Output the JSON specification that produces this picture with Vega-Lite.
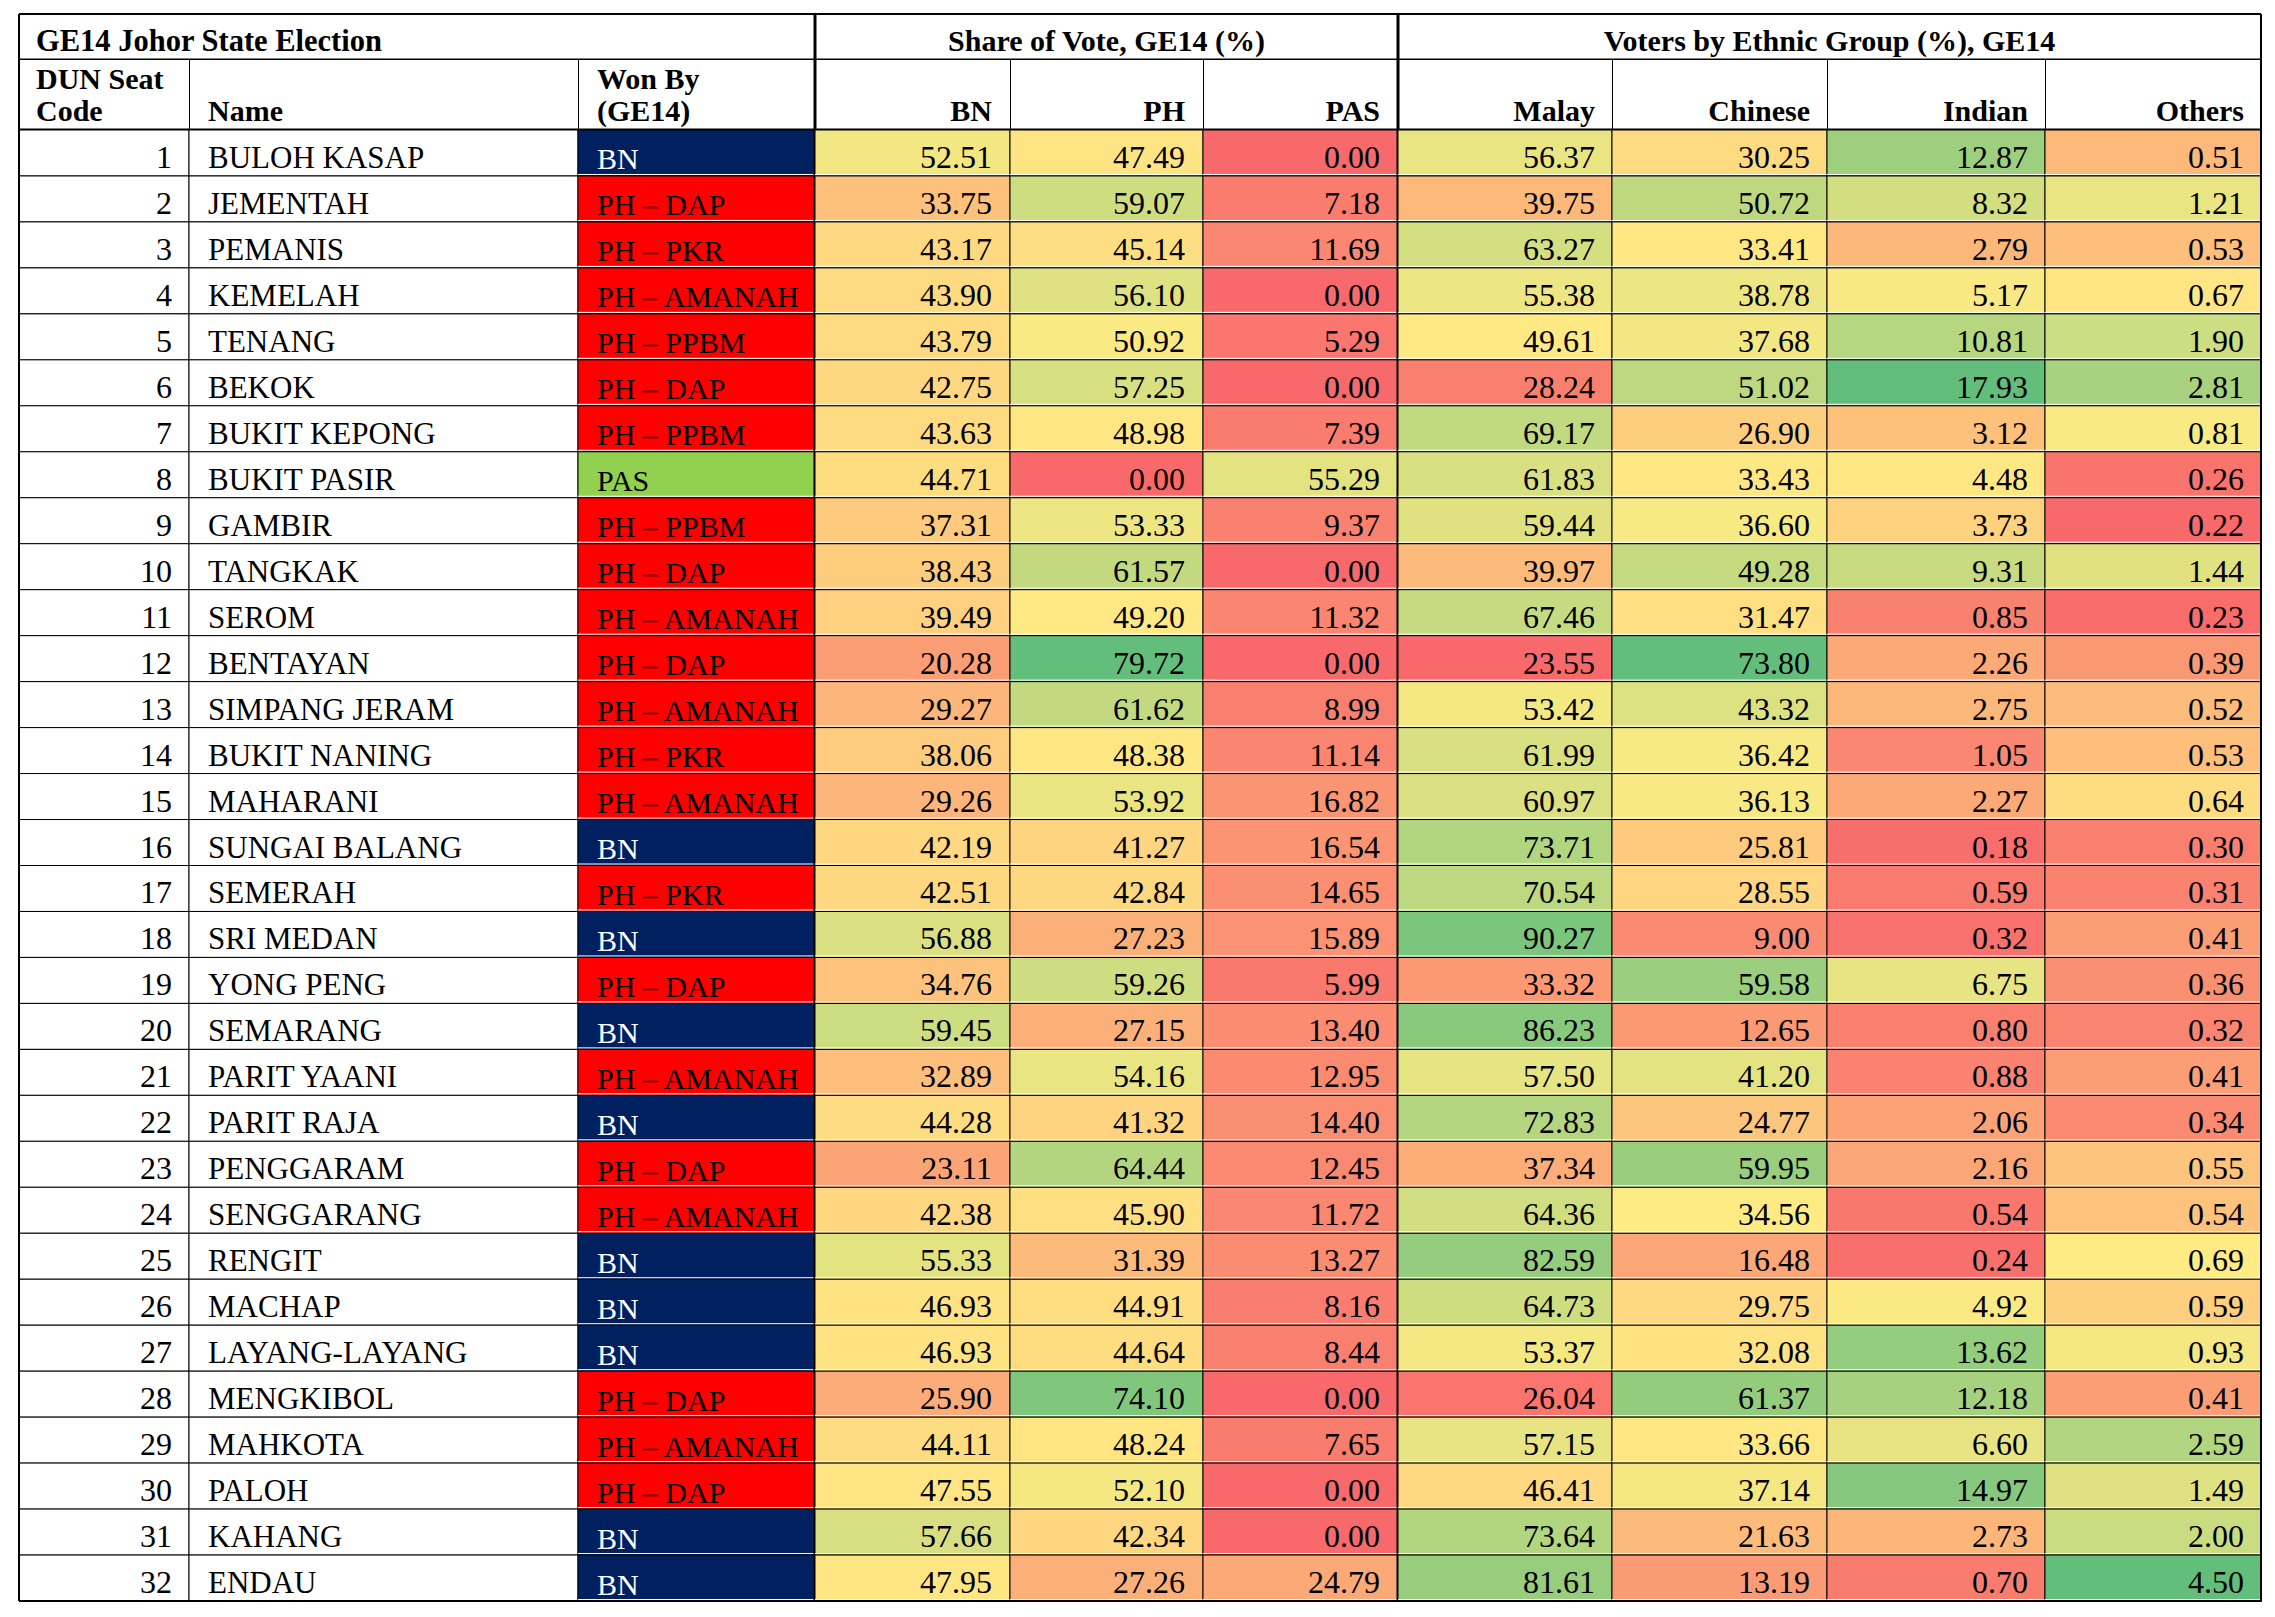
{
  "$schema": "https://vega.github.io/schema/vega-lite/v6.json",
  "background": "white",
  "padding": {"left": 17, "top": 12, "right": 16, "bottom": 18},
  "config": {
    "view": {"stroke": "black", "strokeWidth": 1},
    "text": {"font": "Liberation Serif", "fontSize": 31, "color": "black"},
    "rule": {"color": "black"},
    "concat": {"spacing": 0}
  },
  "datasets": {
    "seats": [
      {"code": 1, "name": "BULOH KASAP", "won": "BN", "BN": 52.51, "PH": 47.49, "PAS": 0.00, "Malay": 56.37, "Chinese": 30.25, "Indian": 12.87, "Others": 0.51},
      {"code": 2, "name": "JEMENTAH", "won": "PH – DAP", "BN": 33.75, "PH": 59.07, "PAS": 7.18, "Malay": 39.75, "Chinese": 50.72, "Indian": 8.32, "Others": 1.21},
      {"code": 3, "name": "PEMANIS", "won": "PH – PKR", "BN": 43.17, "PH": 45.14, "PAS": 11.69, "Malay": 63.27, "Chinese": 33.41, "Indian": 2.79, "Others": 0.53},
      {"code": 4, "name": "KEMELAH", "won": "PH – AMANAH", "BN": 43.90, "PH": 56.10, "PAS": 0.00, "Malay": 55.38, "Chinese": 38.78, "Indian": 5.17, "Others": 0.67},
      {"code": 5, "name": "TENANG", "won": "PH – PPBM", "BN": 43.79, "PH": 50.92, "PAS": 5.29, "Malay": 49.61, "Chinese": 37.68, "Indian": 10.81, "Others": 1.90},
      {"code": 6, "name": "BEKOK", "won": "PH – DAP", "BN": 42.75, "PH": 57.25, "PAS": 0.00, "Malay": 28.24, "Chinese": 51.02, "Indian": 17.93, "Others": 2.81},
      {"code": 7, "name": "BUKIT KEPONG", "won": "PH – PPBM", "BN": 43.63, "PH": 48.98, "PAS": 7.39, "Malay": 69.17, "Chinese": 26.90, "Indian": 3.12, "Others": 0.81},
      {"code": 8, "name": "BUKIT PASIR", "won": "PAS", "BN": 44.71, "PH": 0.00, "PAS": 55.29, "Malay": 61.83, "Chinese": 33.43, "Indian": 4.48, "Others": 0.26},
      {"code": 9, "name": "GAMBIR", "won": "PH – PPBM", "BN": 37.31, "PH": 53.33, "PAS": 9.37, "Malay": 59.44, "Chinese": 36.60, "Indian": 3.73, "Others": 0.22},
      {"code": 10, "name": "TANGKAK", "won": "PH – DAP", "BN": 38.43, "PH": 61.57, "PAS": 0.00, "Malay": 39.97, "Chinese": 49.28, "Indian": 9.31, "Others": 1.44},
      {"code": 11, "name": "SEROM", "won": "PH – AMANAH", "BN": 39.49, "PH": 49.20, "PAS": 11.32, "Malay": 67.46, "Chinese": 31.47, "Indian": 0.85, "Others": 0.23},
      {"code": 12, "name": "BENTAYAN", "won": "PH – DAP", "BN": 20.28, "PH": 79.72, "PAS": 0.00, "Malay": 23.55, "Chinese": 73.80, "Indian": 2.26, "Others": 0.39},
      {"code": 13, "name": "SIMPANG JERAM", "won": "PH – AMANAH", "BN": 29.27, "PH": 61.62, "PAS": 8.99, "Malay": 53.42, "Chinese": 43.32, "Indian": 2.75, "Others": 0.52},
      {"code": 14, "name": "BUKIT NANING", "won": "PH – PKR", "BN": 38.06, "PH": 48.38, "PAS": 11.14, "Malay": 61.99, "Chinese": 36.42, "Indian": 1.05, "Others": 0.53},
      {"code": 15, "name": "MAHARANI", "won": "PH – AMANAH", "BN": 29.26, "PH": 53.92, "PAS": 16.82, "Malay": 60.97, "Chinese": 36.13, "Indian": 2.27, "Others": 0.64},
      {"code": 16, "name": "SUNGAI BALANG", "won": "BN", "BN": 42.19, "PH": 41.27, "PAS": 16.54, "Malay": 73.71, "Chinese": 25.81, "Indian": 0.18, "Others": 0.30},
      {"code": 17, "name": "SEMERAH", "won": "PH – PKR", "BN": 42.51, "PH": 42.84, "PAS": 14.65, "Malay": 70.54, "Chinese": 28.55, "Indian": 0.59, "Others": 0.31},
      {"code": 18, "name": "SRI MEDAN", "won": "BN", "BN": 56.88, "PH": 27.23, "PAS": 15.89, "Malay": 90.27, "Chinese": 9.00, "Indian": 0.32, "Others": 0.41},
      {"code": 19, "name": "YONG PENG", "won": "PH – DAP", "BN": 34.76, "PH": 59.26, "PAS": 5.99, "Malay": 33.32, "Chinese": 59.58, "Indian": 6.75, "Others": 0.36},
      {"code": 20, "name": "SEMARANG", "won": "BN", "BN": 59.45, "PH": 27.15, "PAS": 13.40, "Malay": 86.23, "Chinese": 12.65, "Indian": 0.80, "Others": 0.32},
      {"code": 21, "name": "PARIT YAANI", "won": "PH – AMANAH", "BN": 32.89, "PH": 54.16, "PAS": 12.95, "Malay": 57.50, "Chinese": 41.20, "Indian": 0.88, "Others": 0.41},
      {"code": 22, "name": "PARIT RAJA", "won": "BN", "BN": 44.28, "PH": 41.32, "PAS": 14.40, "Malay": 72.83, "Chinese": 24.77, "Indian": 2.06, "Others": 0.34},
      {"code": 23, "name": "PENGGARAM", "won": "PH – DAP", "BN": 23.11, "PH": 64.44, "PAS": 12.45, "Malay": 37.34, "Chinese": 59.95, "Indian": 2.16, "Others": 0.55},
      {"code": 24, "name": "SENGGARANG", "won": "PH – AMANAH", "BN": 42.38, "PH": 45.90, "PAS": 11.72, "Malay": 64.36, "Chinese": 34.56, "Indian": 0.54, "Others": 0.54},
      {"code": 25, "name": "RENGIT", "won": "BN", "BN": 55.33, "PH": 31.39, "PAS": 13.27, "Malay": 82.59, "Chinese": 16.48, "Indian": 0.24, "Others": 0.69},
      {"code": 26, "name": "MACHAP", "won": "BN", "BN": 46.93, "PH": 44.91, "PAS": 8.16, "Malay": 64.73, "Chinese": 29.75, "Indian": 4.92, "Others": 0.59},
      {"code": 27, "name": "LAYANG-LAYANG", "won": "BN", "BN": 46.93, "PH": 44.64, "PAS": 8.44, "Malay": 53.37, "Chinese": 32.08, "Indian": 13.62, "Others": 0.93},
      {"code": 28, "name": "MENGKIBOL", "won": "PH – DAP", "BN": 25.90, "PH": 74.10, "PAS": 0.00, "Malay": 26.04, "Chinese": 61.37, "Indian": 12.18, "Others": 0.41},
      {"code": 29, "name": "MAHKOTA", "won": "PH – AMANAH", "BN": 44.11, "PH": 48.24, "PAS": 7.65, "Malay": 57.15, "Chinese": 33.66, "Indian": 6.60, "Others": 2.59},
      {"code": 30, "name": "PALOH", "won": "PH – DAP", "BN": 47.55, "PH": 52.10, "PAS": 0.00, "Malay": 46.41, "Chinese": 37.14, "Indian": 14.97, "Others": 1.49},
      {"code": 31, "name": "KAHANG", "won": "BN", "BN": 57.66, "PH": 42.34, "PAS": 0.00, "Malay": 73.64, "Chinese": 21.63, "Indian": 2.73, "Others": 2.00},
      {"code": 32, "name": "ENDAU", "won": "BN", "BN": 47.95, "PH": 27.26, "PAS": 24.79, "Malay": 81.61, "Chinese": 13.19, "Indian": 0.70, "Others": 4.50}
    ]
  },
  "columns": 10,
  "spacing": 0,
  "bounds": "flush",
  "align": "each",
  "resolve": {"scale": {"color": "independent"}},
  "concat": [
    {
      "width": 170, "height": 45, "view": {"stroke": null},
      "data": {"values": [{"h": "GE14 Johor State Election"}]},
      "layer": [
        {"mark": {"type": "text", "align": "left", "baseline": "alphabetic", "fontWeight": "bold", "fontSize": 30.5, "dx": 17, "dy": -8}, "encoding": {"text": {"field": "h"}, "x": {"value": 0}, "y": {"value": "height"}}},
        {"mark": {"type": "rule", "strokeWidth": 2}, "encoding": {"x": {"value": 0}, "y": {"value": 0}, "y2": {"value": "height"}}},
        {"mark": {"type": "rule", "strokeWidth": 2}, "encoding": {"y": {"value": 0}, "x": {"value": 0}, "x2": {"value": "width"}}},
        {"mark": {"type": "rule", "strokeWidth": 1}, "encoding": {"y": {"value": "height"}, "x": {"value": 0}, "x2": {"value": "width"}}}
      ]
    },
    {
      "width": 389, "height": 45, "view": {"stroke": null},
      "data": {"values": [{}]},
      "layer": [
        {"mark": {"type": "rule", "strokeWidth": 2}, "encoding": {"y": {"value": 0}, "x": {"value": 0}, "x2": {"value": "width"}}},
        {"mark": {"type": "rule", "strokeWidth": 1}, "encoding": {"y": {"value": "height"}, "x": {"value": 0}, "x2": {"value": "width"}}}
      ]
    },
    {
      "width": 237, "height": 45, "view": {"stroke": null},
      "data": {"values": [{}]},
      "layer": [
        {"mark": {"type": "rule", "strokeWidth": 2}, "encoding": {"y": {"value": 0}, "x": {"value": 0}, "x2": {"value": "width"}}},
        {"mark": {"type": "rule", "strokeWidth": 1}, "encoding": {"y": {"value": "height"}, "x": {"value": 0}, "x2": {"value": "width"}}},
        {"mark": {"type": "rule", "strokeWidth": 3}, "encoding": {"x": {"value": "width"}, "y": {"value": 0}, "y2": {"value": "height"}}}
      ]
    },
    {
      "width": 195, "height": 45, "view": {"stroke": null},
      "data": {"values": [{}]},
      "layer": [
        {"mark": {"type": "rule", "strokeWidth": 2}, "encoding": {"y": {"value": 0}, "x": {"value": 0}, "x2": {"value": "width"}}},
        {"mark": {"type": "rule", "strokeWidth": 1}, "encoding": {"y": {"value": "height"}, "x": {"value": 0}, "x2": {"value": "width"}}}
      ]
    },
    {
      "width": 193, "height": 45, "view": {"stroke": null},
      "data": {"values": [{"h": "Share of Vote, GE14 (%)"}]},
      "layer": [
        {"mark": {"type": "text", "align": "center", "baseline": "alphabetic", "fontWeight": "bold", "fontSize": 30, "dy": -8}, "encoding": {"text": {"field": "h"}, "x": {"value": 96.5}, "y": {"value": "height"}}},
        {"mark": {"type": "rule", "strokeWidth": 2}, "encoding": {"y": {"value": 0}, "x": {"value": 0}, "x2": {"value": "width"}}},
        {"mark": {"type": "rule", "strokeWidth": 1}, "encoding": {"y": {"value": "height"}, "x": {"value": 0}, "x2": {"value": "width"}}}
      ]
    },
    {
      "width": 195, "height": 45, "view": {"stroke": null},
      "data": {"values": [{}]},
      "layer": [
        {"mark": {"type": "rule", "strokeWidth": 2}, "encoding": {"y": {"value": 0}, "x": {"value": 0}, "x2": {"value": "width"}}},
        {"mark": {"type": "rule", "strokeWidth": 1}, "encoding": {"y": {"value": "height"}, "x": {"value": 0}, "x2": {"value": "width"}}},
        {"mark": {"type": "rule", "strokeWidth": 3}, "encoding": {"x": {"value": "width"}, "y": {"value": 0}, "y2": {"value": "height"}}}
      ]
    },
    {
      "width": 214, "height": 45, "view": {"stroke": null},
      "data": {"values": [{}]},
      "layer": [
        {"mark": {"type": "rule", "strokeWidth": 2}, "encoding": {"y": {"value": 0}, "x": {"value": 0}, "x2": {"value": "width"}}},
        {"mark": {"type": "rule", "strokeWidth": 1}, "encoding": {"y": {"value": "height"}, "x": {"value": 0}, "x2": {"value": "width"}}}
      ]
    },
    {
      "width": 215, "height": 45, "view": {"stroke": null},
      "data": {"values": [{"h": "Voters by Ethnic Group (%), GE14"}]},
      "layer": [
        {"mark": {"type": "text", "align": "center", "baseline": "alphabetic", "fontWeight": "bold", "fontSize": 30, "dx": 2.5, "dy": -8}, "encoding": {"text": {"field": "h"}, "x": {"value": "width"}, "y": {"value": "height"}}},
        {"mark": {"type": "rule", "strokeWidth": 2}, "encoding": {"y": {"value": 0}, "x": {"value": 0}, "x2": {"value": "width"}}},
        {"mark": {"type": "rule", "strokeWidth": 1}, "encoding": {"y": {"value": "height"}, "x": {"value": 0}, "x2": {"value": "width"}}}
      ]
    },
    {
      "width": 218, "height": 45, "view": {"stroke": null},
      "data": {"values": [{}]},
      "layer": [
        {"mark": {"type": "rule", "strokeWidth": 2}, "encoding": {"y": {"value": 0}, "x": {"value": 0}, "x2": {"value": "width"}}},
        {"mark": {"type": "rule", "strokeWidth": 1}, "encoding": {"y": {"value": "height"}, "x": {"value": 0}, "x2": {"value": "width"}}}
      ]
    },
    {
      "width": 216, "height": 45, "view": {"stroke": null},
      "data": {"values": [{}]},
      "layer": [
        {"mark": {"type": "rule", "strokeWidth": 2}, "encoding": {"y": {"value": 0}, "x": {"value": 0}, "x2": {"value": "width"}}},
        {"mark": {"type": "rule", "strokeWidth": 1}, "encoding": {"y": {"value": "height"}, "x": {"value": 0}, "x2": {"value": "width"}}},
        {"mark": {"type": "rule", "strokeWidth": 2}, "encoding": {"x": {"value": "width"}, "y": {"value": 0}, "y2": {"value": "height"}}}
      ]
    },
    {
      "width": 170, "height": 71,
      "data": {"values": [{"h": "DUN Seat\nCode"}]},
      "layer": [
        {"mark": {"type": "text", "align": "left", "baseline": "alphabetic", "fontWeight": "bold", "fontSize": 30, "dx": 17, "dy": -41, "lineBreak": "\n", "lineHeight": 32}, "encoding": {"text": {"field": "h"}, "x": {"value": 0}, "y": {"value": "height"}}},
        {"mark": {"type": "rule", "strokeWidth": 2}, "encoding": {"x": {"value": 0}, "y": {"value": 0}, "y2": {"value": "height"}}},
        {"mark": {"type": "rule", "strokeWidth": 3}, "encoding": {"y": {"value": "height"}, "x": {"value": 0}, "x2": {"value": "width"}}}
      ]
    },
    {
      "width": 389, "height": 71,
      "data": {"values": [{"h": "Name"}]},
      "layer": [
        {"mark": {"type": "text", "align": "left", "baseline": "alphabetic", "fontWeight": "bold", "fontSize": 30, "dx": 19, "dy": -9}, "encoding": {"text": {"field": "h"}, "x": {"value": 0}, "y": {"value": "height"}}},
        {"mark": {"type": "rule", "strokeWidth": 3}, "encoding": {"y": {"value": "height"}, "x": {"value": 0}, "x2": {"value": "width"}}}
      ]
    },
    {
      "width": 237, "height": 71,
      "data": {"values": [{"h": "Won By\n(GE14)"}]},
      "layer": [
        {"mark": {"type": "text", "align": "left", "baseline": "alphabetic", "fontWeight": "bold", "fontSize": 30, "dx": 19, "dy": -41, "lineBreak": "\n", "lineHeight": 32}, "encoding": {"text": {"field": "h"}, "x": {"value": 0}, "y": {"value": "height"}}},
        {"mark": {"type": "rule", "strokeWidth": 3}, "encoding": {"y": {"value": "height"}, "x": {"value": 0}, "x2": {"value": "width"}}},
        {"mark": {"type": "rule", "strokeWidth": 3}, "encoding": {"x": {"value": "width"}, "y": {"value": 0}, "y2": {"value": "height"}}}
      ]
    },
    {
      "width": 195, "height": 71,
      "data": {"values": [{"h": "BN"}]},
      "layer": [
        {"mark": {"type": "text", "align": "right", "baseline": "alphabetic", "fontWeight": "bold", "fontSize": 30, "dx": -18, "dy": -9}, "encoding": {"text": {"field": "h"}, "x": {"value": "width"}, "y": {"value": "height"}}},
        {"mark": {"type": "rule", "strokeWidth": 3}, "encoding": {"y": {"value": "height"}, "x": {"value": 0}, "x2": {"value": "width"}}}
      ]
    },
    {
      "width": 193, "height": 71,
      "data": {"values": [{"h": "PH"}]},
      "layer": [
        {"mark": {"type": "text", "align": "right", "baseline": "alphabetic", "fontWeight": "bold", "fontSize": 30, "dx": -18, "dy": -9}, "encoding": {"text": {"field": "h"}, "x": {"value": "width"}, "y": {"value": "height"}}},
        {"mark": {"type": "rule", "strokeWidth": 3}, "encoding": {"y": {"value": "height"}, "x": {"value": 0}, "x2": {"value": "width"}}}
      ]
    },
    {
      "width": 195, "height": 71,
      "data": {"values": [{"h": "PAS"}]},
      "layer": [
        {"mark": {"type": "text", "align": "right", "baseline": "alphabetic", "fontWeight": "bold", "fontSize": 30, "dx": -18, "dy": -9}, "encoding": {"text": {"field": "h"}, "x": {"value": "width"}, "y": {"value": "height"}}},
        {"mark": {"type": "rule", "strokeWidth": 3}, "encoding": {"y": {"value": "height"}, "x": {"value": 0}, "x2": {"value": "width"}}},
        {"mark": {"type": "rule", "strokeWidth": 3}, "encoding": {"x": {"value": "width"}, "y": {"value": 0}, "y2": {"value": "height"}}}
      ]
    },
    {
      "width": 214, "height": 71,
      "data": {"values": [{"h": "Malay"}]},
      "layer": [
        {"mark": {"type": "text", "align": "right", "baseline": "alphabetic", "fontWeight": "bold", "fontSize": 30, "dx": -17, "dy": -9}, "encoding": {"text": {"field": "h"}, "x": {"value": "width"}, "y": {"value": "height"}}},
        {"mark": {"type": "rule", "strokeWidth": 3}, "encoding": {"y": {"value": "height"}, "x": {"value": 0}, "x2": {"value": "width"}}}
      ]
    },
    {
      "width": 215, "height": 71,
      "data": {"values": [{"h": "Chinese"}]},
      "layer": [
        {"mark": {"type": "text", "align": "right", "baseline": "alphabetic", "fontWeight": "bold", "fontSize": 30, "dx": -17, "dy": -9}, "encoding": {"text": {"field": "h"}, "x": {"value": "width"}, "y": {"value": "height"}}},
        {"mark": {"type": "rule", "strokeWidth": 3}, "encoding": {"y": {"value": "height"}, "x": {"value": 0}, "x2": {"value": "width"}}}
      ]
    },
    {
      "width": 218, "height": 71,
      "data": {"values": [{"h": "Indian"}]},
      "layer": [
        {"mark": {"type": "text", "align": "right", "baseline": "alphabetic", "fontWeight": "bold", "fontSize": 30, "dx": -17, "dy": -9}, "encoding": {"text": {"field": "h"}, "x": {"value": "width"}, "y": {"value": "height"}}},
        {"mark": {"type": "rule", "strokeWidth": 3}, "encoding": {"y": {"value": "height"}, "x": {"value": 0}, "x2": {"value": "width"}}}
      ]
    },
    {
      "width": 216, "height": 71,
      "data": {"values": [{"h": "Others"}]},
      "layer": [
        {"mark": {"type": "text", "align": "right", "baseline": "alphabetic", "fontWeight": "bold", "fontSize": 30, "dx": -17, "dy": -9}, "encoding": {"text": {"field": "h"}, "x": {"value": "width"}, "y": {"value": "height"}}},
        {"mark": {"type": "rule", "strokeWidth": 3}, "encoding": {"y": {"value": "height"}, "x": {"value": 0}, "x2": {"value": "width"}}},
        {"mark": {"type": "rule", "strokeWidth": 2}, "encoding": {"x": {"value": "width"}, "y": {"value": 0}, "y2": {"value": "height"}}}
      ]
    },
    {
      "width": 170, "height": 1471,
      "data": {"name": "seats"},
      "layer": [
        {"mark": {"type": "rect", "fill": "white", "stroke": "black", "strokeWidth": 1}, "encoding": {"y": {"field": "code", "type": "ordinal", "axis": null, "scale": {"paddingInner": 0, "paddingOuter": 0}}}},
        {"mark": {"type": "text", "align": "right", "baseline": "alphabetic", "fontSize": 32, "dx": -17, "dy": -8}, "encoding": {"y": {"field": "code", "type": "ordinal", "axis": null, "bandPosition": 1}, "x": {"value": "width"}, "text": {"field": "code"}}},
        {"data": {"values": [{}]}, "mark": {"type": "rule", "strokeWidth": 2}, "encoding": {"x": {"value": 0}, "y": {"value": 0}, "y2": {"value": "height"}}},
        {"data": {"values": [{}]}, "mark": {"type": "rule", "strokeWidth": 2}, "encoding": {"y": {"value": "height"}, "x": {"value": 0}, "x2": {"value": "width"}}}
      ]
    },
    {
      "width": 389, "height": 1471,
      "data": {"name": "seats"},
      "layer": [
        {"mark": {"type": "rect", "fill": "white", "stroke": "black", "strokeWidth": 1}, "encoding": {"y": {"field": "code", "type": "ordinal", "axis": null, "scale": {"paddingInner": 0, "paddingOuter": 0}}}},
        {"mark": {"type": "text", "align": "left", "baseline": "alphabetic", "dx": 19, "dy": -8}, "encoding": {"y": {"field": "code", "type": "ordinal", "axis": null, "bandPosition": 1}, "x": {"value": 0}, "text": {"field": "name"}}},
        {"data": {"values": [{}]}, "mark": {"type": "rule", "strokeWidth": 2}, "encoding": {"y": {"value": "height"}, "x": {"value": 0}, "x2": {"value": "width"}}}
      ]
    },
    {
      "width": 237, "height": 1471,
      "data": {"name": "seats"},
      "layer": [
        {"mark": {"type": "rect", "stroke": "black", "strokeWidth": 1}, "encoding": {"y": {"field": "code", "type": "ordinal", "axis": null, "scale": {"paddingInner": 0, "paddingOuter": 0}}, "color": {"field": "won", "type": "nominal", "legend": null, "scale": {"domain": ["BN", "PH – DAP", "PH – PKR", "PH – AMANAH", "PH – PPBM", "PAS"], "range": ["#002060", "#FF0000", "#FF0000", "#FF0000", "#FF0000", "#92D050"]}}}},
        {"mark": {"type": "rule", "color": "white", "strokeWidth": 1, "yOffset": -1.5}, "encoding": {"y": {"field": "code", "type": "ordinal", "axis": null, "bandPosition": 1}, "x": {"value": 0}, "x2": {"value": "width"}}},
        {"mark": {"type": "text", "align": "left", "baseline": "alphabetic", "fontSize": 30, "dx": 19, "dy": -6.5}, "encoding": {"y": {"field": "code", "type": "ordinal", "axis": null, "bandPosition": 1}, "x": {"value": 0}, "text": {"field": "won"}, "color": {"condition": {"test": "datum.won === 'BN'", "value": "white"}, "value": "black"}}},
        {"data": {"values": [{}]}, "mark": {"type": "rule", "strokeWidth": 2}, "encoding": {"y": {"value": "height"}, "x": {"value": 0}, "x2": {"value": "width"}}},
        {"data": {"values": [{}]}, "mark": {"type": "rule", "strokeWidth": 3}, "encoding": {"x": {"value": "width"}, "y": {"value": 0}, "y2": {"value": "height"}}}
      ]
    },
    {
      "width": 195, "height": 1471,
      "data": {"name": "seats"},
      "layer": [
        {"mark": {"type": "rect", "stroke": "black", "strokeWidth": 1}, "encoding": {"y": {"field": "code", "type": "ordinal", "axis": null, "scale": {"paddingInner": 0, "paddingOuter": 0}}, "color": {"field": "BN", "type": "quantitative", "legend": null, "scale": {"domain": [0, 50, 79.72], "range": ["#F8696B", "#FFEB84", "#63BE7B"], "interpolate": "rgb", "clamp": true}}}},
        {"mark": {"type": "rule", "color": "white", "strokeWidth": 1, "yOffset": -1.5}, "encoding": {"y": {"field": "code", "type": "ordinal", "axis": null, "bandPosition": 1}, "x": {"value": 0}, "x2": {"value": "width"}}},
        {"mark": {"type": "text", "align": "right", "baseline": "alphabetic", "fontSize": 32, "dx": -18, "dy": -8}, "encoding": {"y": {"field": "code", "type": "ordinal", "axis": null, "bandPosition": 1}, "x": {"value": "width"}, "text": {"field": "BN", "type": "quantitative", "format": ".2f"}}},
        {"data": {"values": [{}]}, "mark": {"type": "rule", "strokeWidth": 2}, "encoding": {"y": {"value": "height"}, "x": {"value": 0}, "x2": {"value": "width"}}}
      ]
    },
    {
      "width": 193, "height": 1471,
      "data": {"name": "seats"},
      "layer": [
        {"mark": {"type": "rect", "stroke": "black", "strokeWidth": 1}, "encoding": {"y": {"field": "code", "type": "ordinal", "axis": null, "scale": {"paddingInner": 0, "paddingOuter": 0}}, "color": {"field": "PH", "type": "quantitative", "legend": null, "scale": {"domain": [0, 50, 79.72], "range": ["#F8696B", "#FFEB84", "#63BE7B"], "interpolate": "rgb", "clamp": true}}}},
        {"mark": {"type": "rule", "color": "white", "strokeWidth": 1, "yOffset": -1.5}, "encoding": {"y": {"field": "code", "type": "ordinal", "axis": null, "bandPosition": 1}, "x": {"value": 0}, "x2": {"value": "width"}}},
        {"mark": {"type": "text", "align": "right", "baseline": "alphabetic", "fontSize": 32, "dx": -18, "dy": -8}, "encoding": {"y": {"field": "code", "type": "ordinal", "axis": null, "bandPosition": 1}, "x": {"value": "width"}, "text": {"field": "PH", "type": "quantitative", "format": ".2f"}}},
        {"data": {"values": [{}]}, "mark": {"type": "rule", "strokeWidth": 2}, "encoding": {"y": {"value": "height"}, "x": {"value": 0}, "x2": {"value": "width"}}}
      ]
    },
    {
      "width": 195, "height": 1471,
      "data": {"name": "seats"},
      "layer": [
        {"mark": {"type": "rect", "stroke": "black", "strokeWidth": 1}, "encoding": {"y": {"field": "code", "type": "ordinal", "axis": null, "scale": {"paddingInner": 0, "paddingOuter": 0}}, "color": {"field": "PAS", "type": "quantitative", "legend": null, "scale": {"domain": [0, 50, 79.72], "range": ["#F8696B", "#FFEB84", "#63BE7B"], "interpolate": "rgb", "clamp": true}}}},
        {"mark": {"type": "rule", "color": "white", "strokeWidth": 1, "yOffset": -1.5}, "encoding": {"y": {"field": "code", "type": "ordinal", "axis": null, "bandPosition": 1}, "x": {"value": 0}, "x2": {"value": "width"}}},
        {"mark": {"type": "text", "align": "right", "baseline": "alphabetic", "fontSize": 32, "dx": -18, "dy": -8}, "encoding": {"y": {"field": "code", "type": "ordinal", "axis": null, "bandPosition": 1}, "x": {"value": "width"}, "text": {"field": "PAS", "type": "quantitative", "format": ".2f"}}},
        {"data": {"values": [{}]}, "mark": {"type": "rule", "strokeWidth": 2}, "encoding": {"y": {"value": "height"}, "x": {"value": 0}, "x2": {"value": "width"}}},
        {"data": {"values": [{}]}, "mark": {"type": "rule", "strokeWidth": 3}, "encoding": {"x": {"value": "width"}, "y": {"value": 0}, "y2": {"value": "height"}}}
      ]
    },
    {
      "width": 214, "height": 1471,
      "data": {"name": "seats"},
      "layer": [
        {"mark": {"type": "rect", "stroke": "black", "strokeWidth": 1}, "encoding": {"y": {"field": "code", "type": "ordinal", "axis": null, "scale": {"paddingInner": 0, "paddingOuter": 0}}, "color": {"field": "Malay", "type": "quantitative", "legend": null, "scale": {"domain": [23.55, 50, 98], "range": ["#F8696B", "#FFEB84", "#63BE7B"], "interpolate": "rgb", "clamp": true}}}},
        {"mark": {"type": "rule", "color": "white", "strokeWidth": 1, "yOffset": -1.5}, "encoding": {"y": {"field": "code", "type": "ordinal", "axis": null, "bandPosition": 1}, "x": {"value": 0}, "x2": {"value": "width"}}},
        {"mark": {"type": "text", "align": "right", "baseline": "alphabetic", "fontSize": 32, "dx": -17, "dy": -8}, "encoding": {"y": {"field": "code", "type": "ordinal", "axis": null, "bandPosition": 1}, "x": {"value": "width"}, "text": {"field": "Malay", "type": "quantitative", "format": ".2f"}}},
        {"data": {"values": [{}]}, "mark": {"type": "rule", "strokeWidth": 2}, "encoding": {"y": {"value": "height"}, "x": {"value": 0}, "x2": {"value": "width"}}}
      ]
    },
    {
      "width": 215, "height": 1471,
      "data": {"name": "seats"},
      "layer": [
        {"mark": {"type": "rect", "stroke": "black", "strokeWidth": 1}, "encoding": {"y": {"field": "code", "type": "ordinal", "axis": null, "scale": {"paddingInner": 0, "paddingOuter": 0}}, "color": {"field": "Chinese", "type": "quantitative", "legend": null, "scale": {"domain": [0, 34.5, 73.8], "range": ["#F8696B", "#FFEB84", "#63BE7B"], "interpolate": "rgb", "clamp": true}}}},
        {"mark": {"type": "rule", "color": "white", "strokeWidth": 1, "yOffset": -1.5}, "encoding": {"y": {"field": "code", "type": "ordinal", "axis": null, "bandPosition": 1}, "x": {"value": 0}, "x2": {"value": "width"}}},
        {"mark": {"type": "text", "align": "right", "baseline": "alphabetic", "fontSize": 32, "dx": -17, "dy": -8}, "encoding": {"y": {"field": "code", "type": "ordinal", "axis": null, "bandPosition": 1}, "x": {"value": "width"}, "text": {"field": "Chinese", "type": "quantitative", "format": ".2f"}}},
        {"data": {"values": [{}]}, "mark": {"type": "rule", "strokeWidth": 2}, "encoding": {"y": {"value": "height"}, "x": {"value": 0}, "x2": {"value": "width"}}}
      ]
    },
    {
      "width": 218, "height": 1471,
      "data": {"name": "seats"},
      "layer": [
        {"mark": {"type": "rect", "stroke": "black", "strokeWidth": 1}, "encoding": {"y": {"field": "code", "type": "ordinal", "axis": null, "scale": {"paddingInner": 0, "paddingOuter": 0}}, "color": {"field": "Indian", "type": "quantitative", "legend": null, "scale": {"domain": [0, 4.6, 17.93], "range": ["#F8696B", "#FFEB84", "#63BE7B"], "interpolate": "rgb", "clamp": true}}}},
        {"mark": {"type": "rule", "color": "white", "strokeWidth": 1, "yOffset": -1.5}, "encoding": {"y": {"field": "code", "type": "ordinal", "axis": null, "bandPosition": 1}, "x": {"value": 0}, "x2": {"value": "width"}}},
        {"mark": {"type": "text", "align": "right", "baseline": "alphabetic", "fontSize": 32, "dx": -17, "dy": -8}, "encoding": {"y": {"field": "code", "type": "ordinal", "axis": null, "bandPosition": 1}, "x": {"value": "width"}, "text": {"field": "Indian", "type": "quantitative", "format": ".2f"}}},
        {"data": {"values": [{}]}, "mark": {"type": "rule", "strokeWidth": 2}, "encoding": {"y": {"value": "height"}, "x": {"value": 0}, "x2": {"value": "width"}}}
      ]
    },
    {
      "width": 216, "height": 1471,
      "data": {"name": "seats"},
      "layer": [
        {"mark": {"type": "rect", "stroke": "black", "strokeWidth": 1}, "encoding": {"y": {"field": "code", "type": "ordinal", "axis": null, "scale": {"paddingInner": 0, "paddingOuter": 0}}, "color": {"field": "Others", "type": "quantitative", "legend": null, "scale": {"domain": [0.22, 0.69, 4.5], "range": ["#F8696B", "#FFEB84", "#63BE7B"], "interpolate": "rgb", "clamp": true}}}},
        {"mark": {"type": "rule", "color": "white", "strokeWidth": 1, "yOffset": -1.5}, "encoding": {"y": {"field": "code", "type": "ordinal", "axis": null, "bandPosition": 1}, "x": {"value": 0}, "x2": {"value": "width"}}},
        {"mark": {"type": "text", "align": "right", "baseline": "alphabetic", "fontSize": 32, "dx": -17, "dy": -8}, "encoding": {"y": {"field": "code", "type": "ordinal", "axis": null, "bandPosition": 1}, "x": {"value": "width"}, "text": {"field": "Others", "type": "quantitative", "format": ".2f"}}},
        {"data": {"values": [{}]}, "mark": {"type": "rule", "strokeWidth": 2}, "encoding": {"y": {"value": "height"}, "x": {"value": 0}, "x2": {"value": "width"}}},
        {"data": {"values": [{}]}, "mark": {"type": "rule", "strokeWidth": 2}, "encoding": {"x": {"value": "width"}, "y": {"value": 0}, "y2": {"value": "height"}}}
      ]
    }
  ]
}
